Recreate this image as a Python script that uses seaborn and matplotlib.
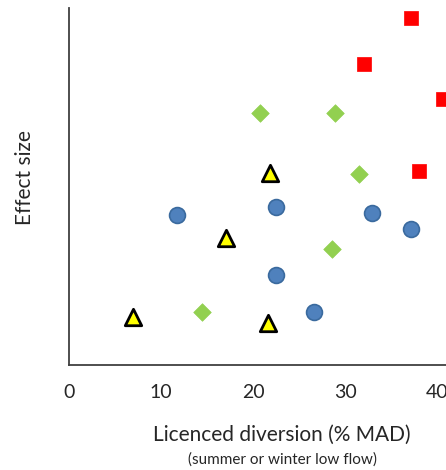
import pandas as pd
import matplotlib.pyplot as plt
import seaborn as sns

# Licenced diversion (% MAD) vs effect size
red_x = [37.2, 32.1, 40.6, 38.0]
red_y = [97.2, 84.3, 74.5, 54.3]
green_x = [20.8, 28.9, 31.5, 28.6, 14.5]
green_y = [70.6, 70.6, 53.5, 32.5, 14.8]
yellow_x = [21.8, 17.1, 7.0, 21.6]
yellow_y = [53.8, 35.6, 13.4, 11.8]
blue_x = [11.7, 22.5, 32.9, 37.2, 22.5, 26.6]
blue_y = [42.0, 44.3, 42.6, 38.1, 25.2, 14.8]
x_ticks = [0, 10, 20, 30, 40]

sns.set_style('white')
plt.rcParams['font.family'] = ['Lato', 'DejaVu Sans']

fig = plt.figure(figsize=(4.46, 4.70), dpi=100)
ax = fig.add_axes([69 / 446, 105 / 470, 382 / 446, 357 / 470])

groups = [
    (blue_x, blue_y, 'o', '#4F81BD', '#3A6A9E', 130, 1.2),
    (green_x, green_y, 'D', '#92D050', '#92D050', 80, 0.5),
    (yellow_x, yellow_y, '^', '#FFFF00', 'black', 140, 2.0),
    (red_x, red_y, 's', '#FF0000', '#FF0000', 115, 0.5),
]
for xs, ys, mk, fc, ec, sz, lw in groups:
    df = pd.DataFrame({'diversion': xs, 'effect': ys})
    sns.scatterplot(data=df, x='diversion', y='effect', marker=mk, color=fc,
                    edgecolor=ec, s=sz, linewidth=lw, ax=ax, zorder=3, clip_on=False)

ax.set_xlim(0, 41.5)
ax.set_ylim(0, 100)
ax.set_xticks(x_ticks)
ax.set_xticklabels([str(t) for t in x_ticks], fontsize=14)
ax.set_yticks([])
ax.tick_params(axis='x', length=0, pad=14)
ax.set_xlabel('')
ax.set_ylabel('')
for side in ['top', 'right']:
    ax.spines[side].set_visible(False)
for side in ['left', 'bottom']:
    ax.spines[side].set_color('#404040')
    ax.spines[side].set_linewidth(1.3)

fig.text(282 / 446, 1 - 435 / 470, 'Licenced diversion (% MAD)', fontsize=15,
         ha='center', va='center')
fig.text(282 / 446, 1 - 460 / 470, '(summer or winter low flow)', fontsize=11,
         ha='center', va='center')
fig.text(25 / 446, 1 - 178 / 470, 'Effect size', fontsize=15, rotation=90,
         ha='center', va='center')

fig.savefig('out.png', dpi=100)
